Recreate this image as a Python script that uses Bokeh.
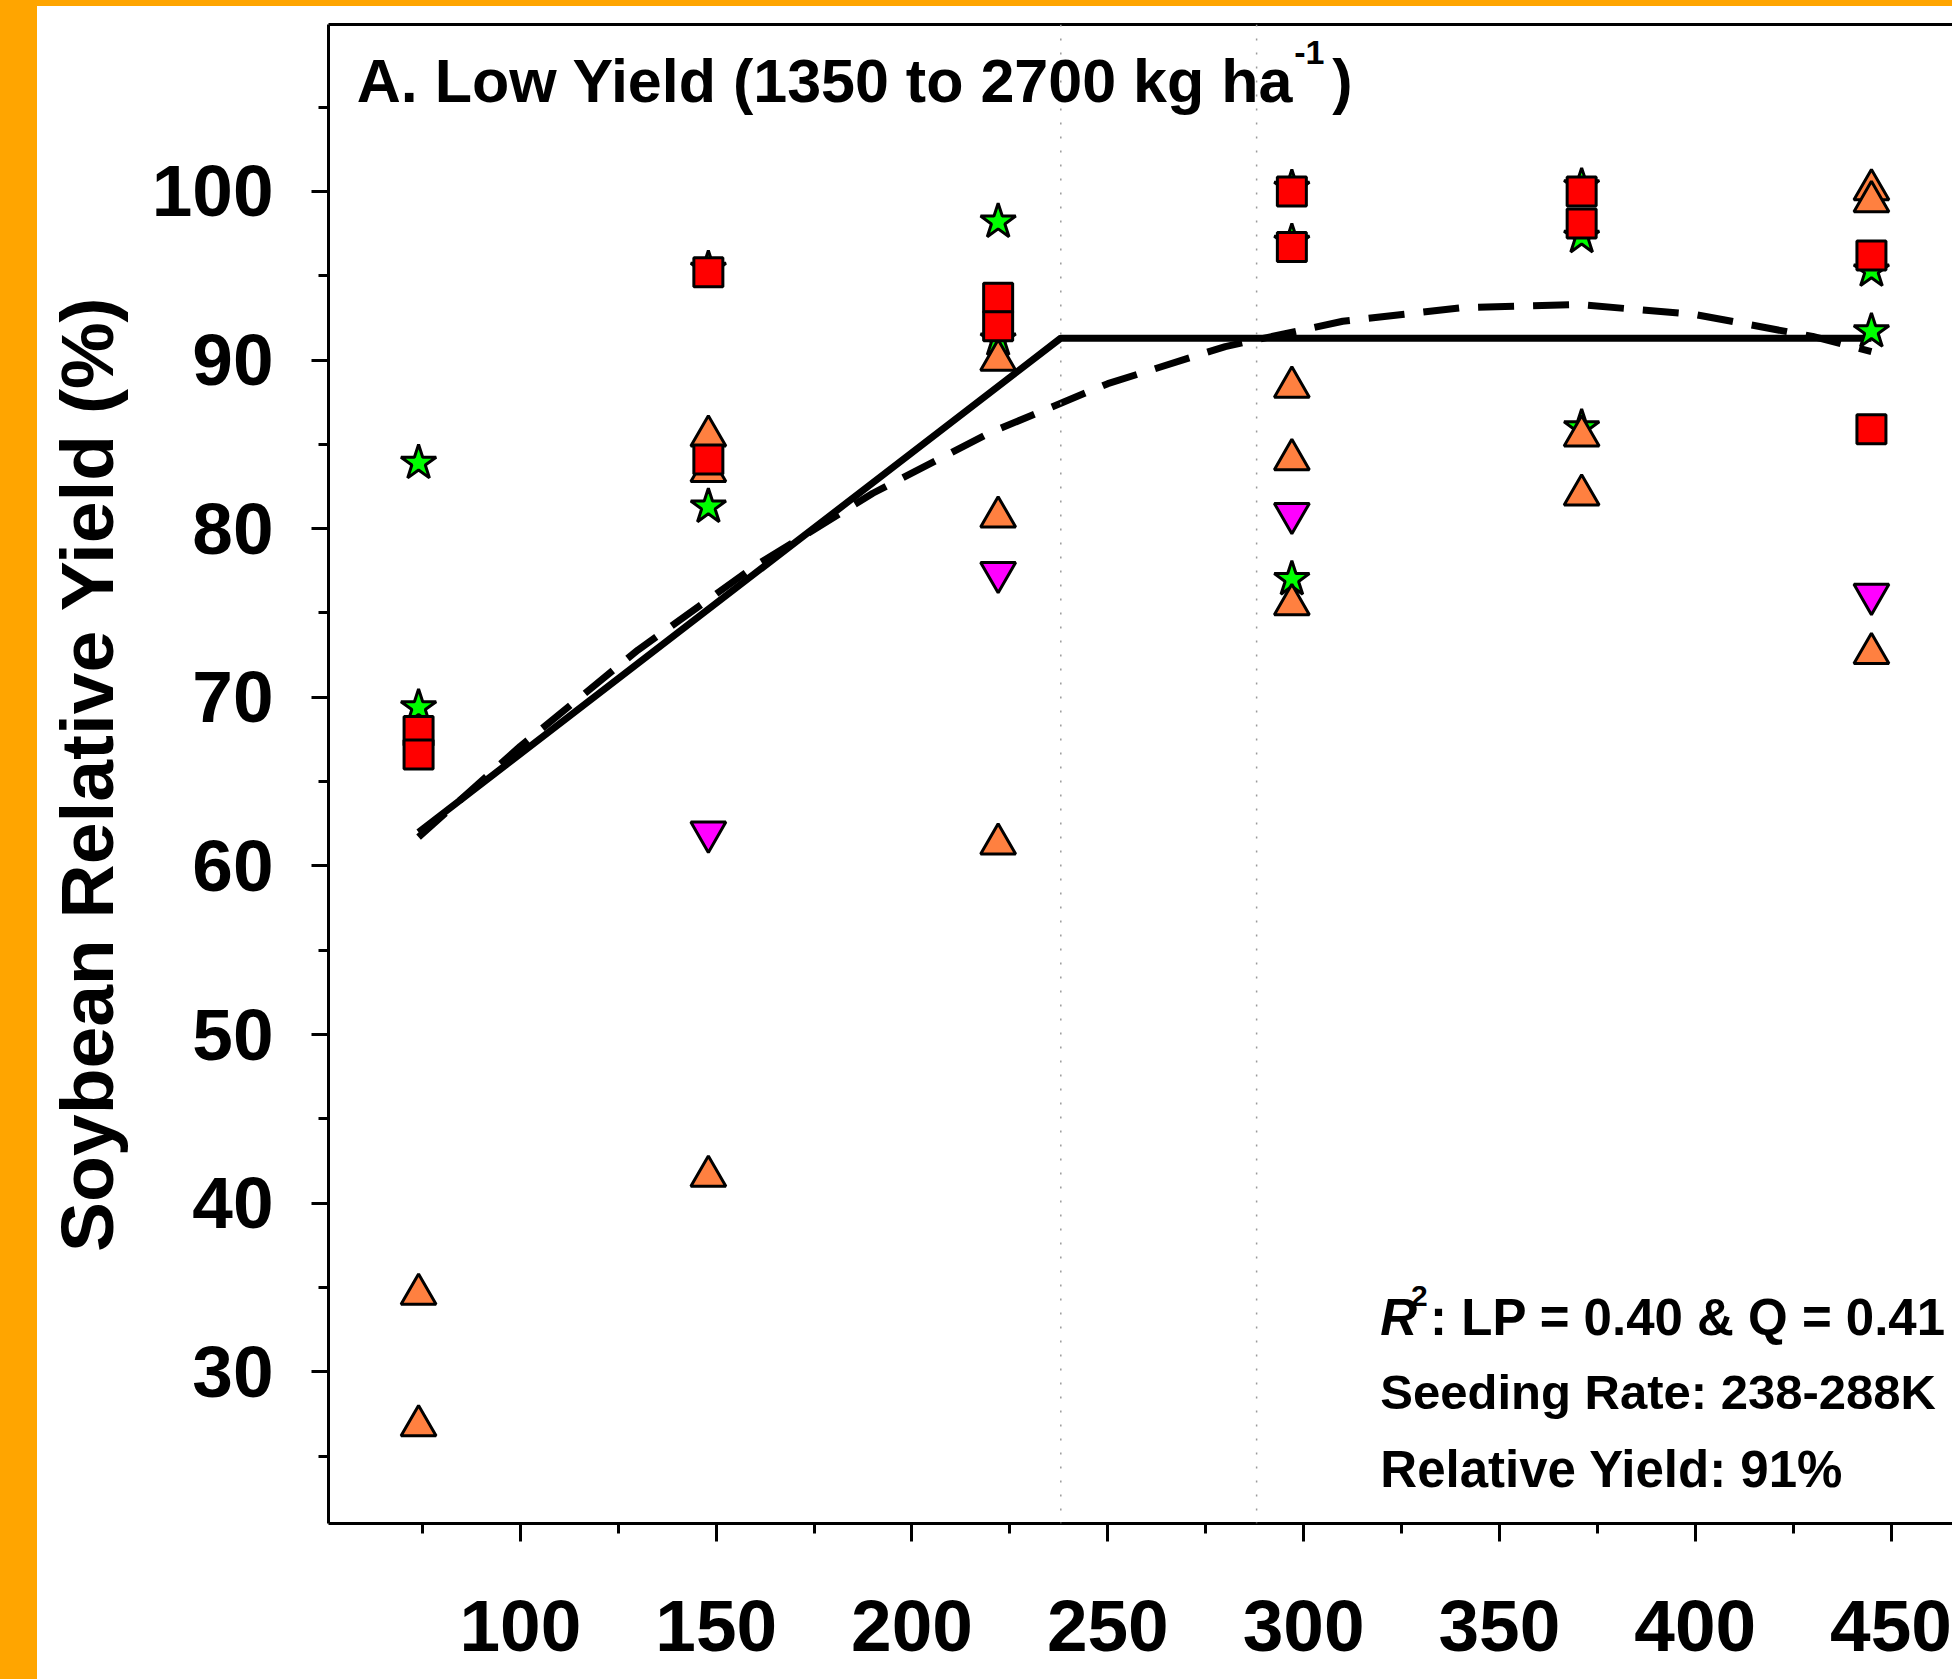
from bokeh.plotting import figure
from bokeh.models import Range1d, FixedTicker, LinearAxis, Span, Label, Spacer
from bokeh.layouts import column, row
from bokeh.embed import file_html
from bokeh.resources import INLINE

# ---------------- data ----------------
# K rate columns (x) and relative yield (%) for each marker series
square_x = [74, 74, 148, 148, 222, 222, 297, 297, 371, 371, 445, 445]
square_y = [68.0, 66.6, 95.2, 84.1, 93.7, 92.0, 100.0, 96.7, 100.0, 98.1, 96.2, 85.9]

triangle_x = [74, 74, 148, 148, 148, 222, 222, 222, 297, 297, 297, 371, 371, 445, 445, 445]
triangle_y = [34.6, 26.8, 85.5, 83.4, 41.6, 90.0, 80.7, 61.3, 88.4, 84.1, 75.5, 85.5, 82.0, 100.1, 99.4, 72.6]

invtri_x = [148, 222, 297, 445]
invtri_y = [62.0, 77.4, 80.9, 76.1]

star_x = [74, 74, 148, 148, 222, 222, 297, 297, 297, 371, 371, 371, 445, 445]
star_y = [83.9, 69.4, 95.4, 81.3, 98.2, 91.2, 100.2, 97.0, 77.0, 100.3, 97.3, 86.0, 95.3, 91.7]

# linear-plateau fit (solid) and quadratic fit (dashed)
lp_x = [74, 238, 445]
lp_y = [62.0, 91.3, 91.3]
quad_x = [74, 100, 130, 160, 190, 220, 250, 280, 310, 340, 370, 400, 430, 445]
quad_y = [61.7, 67.1, 72.8, 77.8, 82.1, 85.7, 88.6, 90.8, 92.3, 93.1, 93.3, 92.7, 91.4, 90.5]

# seeding-rate window (vertical dotted lines)
seeding_bounds = [238, 288]

x_major = [100, 150, 200, 250, 300, 350, 400, 450]
x_minor = [75, 125, 175, 225, 275, 325, 375, 425]
y_major = [30, 40, 50, 60, 70, 80, 90, 100]
y_minor = [25, 35, 45, 55, 65, 75, 85, 95, 105]

FONT = "Liberation Sans"

p = figure(width=1915, height=1673,
           x_range=Range1d(51, 465.7), y_range=Range1d(21.0, 109.9),
           output_backend="svg", toolbar_location=None,
           min_border_left=291, min_border_right=0,
           min_border_top=18, min_border_bottom=156)
p.background_fill_color = "white"
p.border_fill_color = "white"
p.outline_line_color = None
p.grid.visible = False

# axes
for ax in (p.xaxis[0], p.yaxis[0]):
    ax.axis_line_width = 3
    ax.axis_line_color = "black"
    ax.major_tick_line_width = 3
    ax.minor_tick_line_width = 3
    ax.major_tick_in = 0
    ax.minor_tick_in = 0
    ax.major_label_text_font = FONT
    ax.major_label_text_font_style = "bold"
    ax.major_label_text_font_size = "73px"
    ax.major_label_text_color = "black"

p.xaxis.ticker = FixedTicker(ticks=x_major, minor_ticks=x_minor)
p.xaxis.major_tick_out = 18
p.xaxis.minor_tick_out = 10
p.xaxis.major_label_standoff = 59

p.yaxis.ticker = FixedTicker(ticks=y_major, minor_ticks=y_minor)
p.yaxis.major_tick_out = 17
p.yaxis.minor_tick_out = 10
p.yaxis.major_label_standoff = 38
p.yaxis.axis_label = "Soybean Relative Yield (%)"
p.yaxis.axis_label_text_font = FONT
p.yaxis.axis_label_text_font_style = "bold"
p.yaxis.axis_label_text_font_size = "75px"
p.yaxis.axis_label_text_color = "black"
p.yaxis.axis_label_standoff = 20

top_axis = LinearAxis(ticker=FixedTicker(ticks=[]), axis_line_width=3,
                      major_tick_out=0, minor_tick_out=0, major_tick_in=0,
                      minor_tick_in=0, major_label_standoff=0)
p.add_layout(top_axis, "above")

# seeding-rate window
for loc in seeding_bounds:
    p.add_layout(Span(location=loc, dimension="height", line_color="#9a9a9a",
                      line_width=1.5, line_dash="2 12"))

# fitted lines
p.line(lp_x, lp_y, line_color="black", line_width=7)
p.line(quad_x, quad_y, line_color="black", line_width=7, line_dash="36 19")

# markers
p.scatter(star_x, star_y, marker="star", size=37, fill_color="#00FF00",
          line_color="black", line_width=3)
p.scatter(triangle_x, triangle_y, marker="triangle", size=35, fill_color="#FF8040",
          line_color="black", line_width=3)
p.scatter(invtri_x, invtri_y, marker="inverted_triangle", size=35, fill_color="#FF00FF",
          line_color="black", line_width=3)
p.scatter(square_x, square_y, marker="square", size=29, fill_color="#FF0000",
          line_color="black", line_width=3)

def lab(x, y, text, size, style="bold"):
    p.add_layout(Label(x=x, y=y, text=text, text_font=FONT, text_font_style=style,
                       text_font_size=size, text_color="black",
                       text_baseline="alphabetic", text_align="left"))

# panel title
lab(58.2, 106.55, "A. Low Yield (1350 to 2700 kg ha", "61px")
lab(297.6, 108.25, "-1", "34px")
lab(307.3, 106.55, ")", "61px")

# statistics block
lab(319.6, 33.2, "R", "51px", "bold italic")
lab(327.4, 34.5, "2", "30px")
lab(332.3, 33.2, ": LP = 0.40 & Q = 0.41", "51px")
lab(319.6, 28.77, "Seeding Rate: 238-288K", "49px")
lab(319.6, 24.21, "Relative Yield: 91%", "51px")

orange = "#FFA500"
top_strip = Spacer(width=1952, height=6, styles={"background-color": orange})
left_strip = Spacer(width=37, height=1673, styles={"background-color": orange})
layout = column(top_strip, row(left_strip, p))

open("out.html", "w").write(file_html(layout, INLINE))
